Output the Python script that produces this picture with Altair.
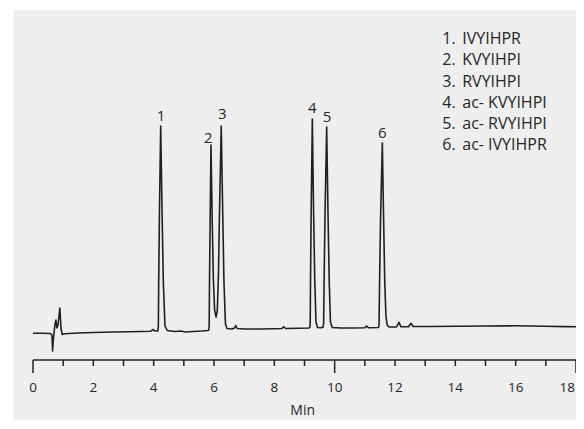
import altair as alt
import pandas as pd

# ---- chromatogram trace (time in min, detector signal, arbitrary units) ----
time_min = [
    0.00, 0.30, 0.58, 0.63, 0.65, 0.67, 0.70, 0.73, 0.76, 0.79, 0.83, 0.89, 0.93, 0.97, 1.05,
    1.50, 2.00, 2.60, 3.20, 3.90, 3.97, 4.04,
    4.14, 4.155, 4.167, 4.19, 4.233, 4.28, 4.32, 4.375, 4.45,
    4.70, 4.90, 5.05, 5.30, 5.60, 5.80,
    5.825, 5.84, 5.85, 5.87, 5.90, 5.94, 5.98, 6.02, 6.07,
    6.11, 6.15, 6.18, 6.24, 6.29, 6.33, 6.38, 6.43,
    6.60, 6.68, 6.72, 6.77, 7.00, 7.50, 8.00, 8.25, 8.31, 8.37, 8.80, 9.15,
    9.18, 9.19, 9.20, 9.22, 9.26, 9.30, 9.34, 9.38, 9.43,
    9.55, 9.62, 9.635, 9.65, 9.68, 9.735, 9.78, 9.82, 9.86, 9.92,
    10.20, 10.60, 11.00, 11.06, 11.12, 11.45,
    11.47, 11.49, 11.52, 11.58, 11.62, 11.66, 11.70, 11.74, 11.80,
    12.05, 12.13, 12.20, 12.45, 12.53, 12.60,
    13.20, 14.00, 15.00, 16.00, 17.00, 17.60, 18.03,
]
signal = [
    -0.3, -0.3, -0.5, -2, -18, -8, 1, 9, 13, 5, 8, 25, 4, -1.5, -0.8,
    0, 0.5, 1, 1.3, 1.8, 3.5, 2,
    2, 7, 51, 118, 207, 118, 51, 7, 2.5,
    1.5, 2, 1, 1.5, 2, 2.5,
    3, 7, 46, 108, 188, 113, 53, 23, 16,
    23, 61, 118, 207, 118, 51, 9, 4.5,
    4, 5, 7.5, 4.5, 4, 4, 4.3, 4.5, 6.3, 4.5, 4.7, 5,
    6, 11, 53, 118, 214, 123, 53, 11, 5.5,
    5.2, 6, 11, 53, 118, 206, 118, 51, 11, 5.5,
    5, 5, 5.3, 6.8, 5.3, 5.5,
    7, 53, 113, 190, 118, 51, 17, 8, 6,
    6, 10.7, 6.2, 6.2, 9.7, 6.5,
    6.5, 6.7, 7, 7.2, 6.8, 6.4, 6.3,
]

# ---- peak labels ----
peak_ids = ["1", "2", "3", "4", "5", "6"]
peak_label_time = [4.243, 5.810, 6.275, 9.257, 9.745, 11.58]
peak_label_signal = [212.3, 190.3, 214.0, 220.3, 210.7, 195.3]

# ---- legend list ----
legend_nums = ["1.", "2.", "3.", "4.", "5.", "6."]
legend_names = ["IVYIHPR", "KVYIHPI", "RVYIHPI", "ac- KVYIHPI", "ac- RVYIHPI", "ac- IVYIHPR"]
legend_signal = [288.7, 267.6, 246.5, 225.4, 204.3, 183.2]
legend_num_time = 13.566
legend_name_time = 14.229

# ---- x axis (Min) ----
tick_values = list(range(0, 19))
long_ticks = [0, 10, 18]
label_values = [0, 2, 4, 6, 8, 10, 12, 14, 16]
last_label = [18]
axis_title = "Min"
axis_title_time = 8.94

# axis geometry in signal units
AXIS_LEVEL = -27
SHORT_END = -33
LONG_END = -40
LABEL_BASE = -59.3
TITLE_BASE = -82

INK = "#231f20"
TXT = "#262626"
FONT = "Open Sans"

x_scale = alt.Scale(domain=[-0.663, 18.0], nice=False, zero=False)
y_scale = alt.Scale(domain=[-87, 323], nice=False, zero=False)


def X(field):
    return alt.X(field, scale=x_scale, axis=None)


def Y(field):
    return alt.Y(field, scale=y_scale, axis=None)


trace = pd.DataFrame({"t": time_min, "s": signal})
line = alt.Chart(trace).mark_line(color=INK, strokeWidth=1.6, strokeJoin="round").encode(
    x=X("t:Q"), y=Y("s:Q"),
)

domain_df = pd.DataFrame({"t": [0], "t2": [18], "s": [AXIS_LEVEL]})
domain_rule = alt.Chart(domain_df).mark_rule(color=INK, strokeWidth=1.6).encode(
    x=X("t:Q"), x2="t2:Q", y=Y("s:Q"),
)

ticks_df = pd.DataFrame({
    "t": tick_values,
    "s": [AXIS_LEVEL] * len(tick_values),
    "s2": [LONG_END if v in long_ticks else SHORT_END for v in tick_values],
})
tick_rules = alt.Chart(ticks_df).mark_rule(color=INK, strokeWidth=1.5).encode(
    x=X("t:Q"), y=Y("s:Q"), y2="s2:Q",
)

lab_df = pd.DataFrame({"t": label_values, "s": [LABEL_BASE] * len(label_values),
                       "txt": [str(v) for v in label_values]})
tick_labels = alt.Chart(lab_df).mark_text(font=FONT, fontSize=13.5, color=TXT,
                                          align="center", baseline="alphabetic").encode(
    x=X("t:Q"), y=Y("s:Q"), text="txt:N",
)
last_df = pd.DataFrame({"t": last_label, "s": [LABEL_BASE], "txt": [str(v) for v in last_label]})
last_tick_label = alt.Chart(last_df).mark_text(font=FONT, fontSize=13.5, color=TXT,
                                               align="right", baseline="alphabetic", dx=-1).encode(
    x=X("t:Q"), y=Y("s:Q"), text="txt:N",
)

title_df = pd.DataFrame({"t": [axis_title_time], "s": [TITLE_BASE], "txt": [axis_title]})
title_text = alt.Chart(title_df).mark_text(font=FONT, fontSize=14, color=TXT,
                                           align="center", baseline="alphabetic").encode(
    x=X("t:Q"), y=Y("s:Q"), text="txt:N",
)

peaks_df = pd.DataFrame({"t": peak_label_time, "s": peak_label_signal, "id": peak_ids})
peak_text = alt.Chart(peaks_df).mark_text(font=FONT, fontSize=15, color=TXT,
                                          align="center", baseline="alphabetic").encode(
    x=X("t:Q"), y=Y("s:Q"), text="id:N",
)

leg_df = pd.DataFrame({"n": legend_nums, "name": legend_names, "s": legend_signal,
                       "tn": [legend_num_time] * 6, "tm": [legend_name_time] * 6})
leg_nums = alt.Chart(leg_df).mark_text(font=FONT, fontSize=16, color=TXT,
                                       align="left", baseline="alphabetic").encode(
    x=X("tn:Q"), y=Y("s:Q"), text="n:N",
)
leg_names = alt.Chart(leg_df).mark_text(font=FONT, fontSize=16, color=TXT,
                                        align="left", baseline="alphabetic").encode(
    x=X("tm:Q"), y=Y("s:Q"), text="name:N",
)

chart = alt.layer(
    line, domain_rule, tick_rules, tick_labels, last_tick_label, title_text,
    peak_text, leg_nums, leg_names,
).properties(
    width=563, height=410,
    padding={"left": 5, "top": 2, "right": 0, "bottom": 0},
    autosize=alt.AutoSizeParams(type="none"),
    background="white",
).configure_view(fill="#eeeeee", stroke="transparent")

chart.save("out.html", embed_options={"renderer": "svg", "actions": False})
